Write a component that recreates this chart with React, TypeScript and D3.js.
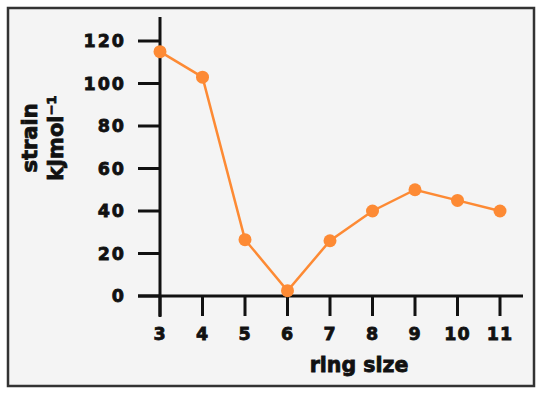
import React from "react";
import * as d3 from "d3";

const ringSizes = [3, 4, 5, 6, 7, 8, 9, 10, 11];
const strain = [115, 103, 26.5, 2.5, 26, 40, 50, 45, 40];
const yTicks = [0, 20, 40, 60, 80, 100, 120];

const W = 542;
const H = 395;
const FONT = "'DejaVu Sans', sans-serif";
const ORANGE = "#fd8a34";
const INK = "#111";

const textStyle = {
  fontFamily: FONT,
  fontWeight: 700 as const,
  fill: INK,
  stroke: INK,
  strokeWidth: 0.8,
};

export default function App() {
  const x = d3.scaleLinear().domain([3, 11]).range([160, 500]);
  const y = d3.scaleLinear().domain([0, 120]).range([296, 41]);
  const line = d3
    .line<number>()
    .x((_, i) => x(ringSizes[i]))
    .y((d) => y(d));

  return (
    <svg
      width={W}
      height={H}
      style={{ position: "absolute", left: 0, top: 0, background: "#fff" }}
    >
      <rect x={8} y={8} width={526} height={378} fill="#f4f4f4" stroke="#333" strokeWidth={2.5} />
      {/* y axis */}
      <line x1={x(3)} x2={x(3)} y1={17} y2={y(0) + 21} stroke={INK} strokeWidth={3} />
      {yTicks.map((t) => (
        <g key={t}>
          <line x1={138} x2={x(3)} y1={y(t)} y2={y(t)} stroke={INK} strokeWidth={3} />
          <text
            x={126}
            y={y(t)}
            dy="0.37em"
            textAnchor="end"
            fontSize={17.5}
            letterSpacing={2}
            {...textStyle}
          >
            {t}
          </text>
        </g>
      ))}
      {/* x axis */}
      <line x1={138} x2={523} y1={y(0)} y2={y(0)} stroke={INK} strokeWidth={3} />
      {ringSizes.map((r) => (
        <g key={r}>
          <line x1={x(r)} x2={x(r)} y1={y(0)} y2={316} stroke={INK} strokeWidth={3} />
          <text
            x={x(r)}
            y={340}
            textAnchor="middle"
            fontSize={17.5}
            letterSpacing={1}
            {...textStyle}
          >
            {r}
          </text>
        </g>
      ))}
      <text x={359} y={372} textAnchor="middle" fontSize={20.5} {...textStyle}>
        ring size
      </text>
      <text
        transform="translate(37,138) rotate(-90)"
        textAnchor="middle"
        fontSize={21}
        {...textStyle}
      >
        strain
      </text>
      <text
        transform="translate(63,138) rotate(-90)"
        textAnchor="middle"
        fontSize={21}
        {...textStyle}
      >
        kJmol⁻¹
      </text>
      <path d={line(strain) || ""} fill="none" stroke={ORANGE} strokeWidth={2.5} />
      {strain.map((v, i) => (
        <circle key={i} cx={x(ringSizes[i])} cy={y(v)} r={6.5} fill={ORANGE} />
      ))}
    </svg>
  );
}
